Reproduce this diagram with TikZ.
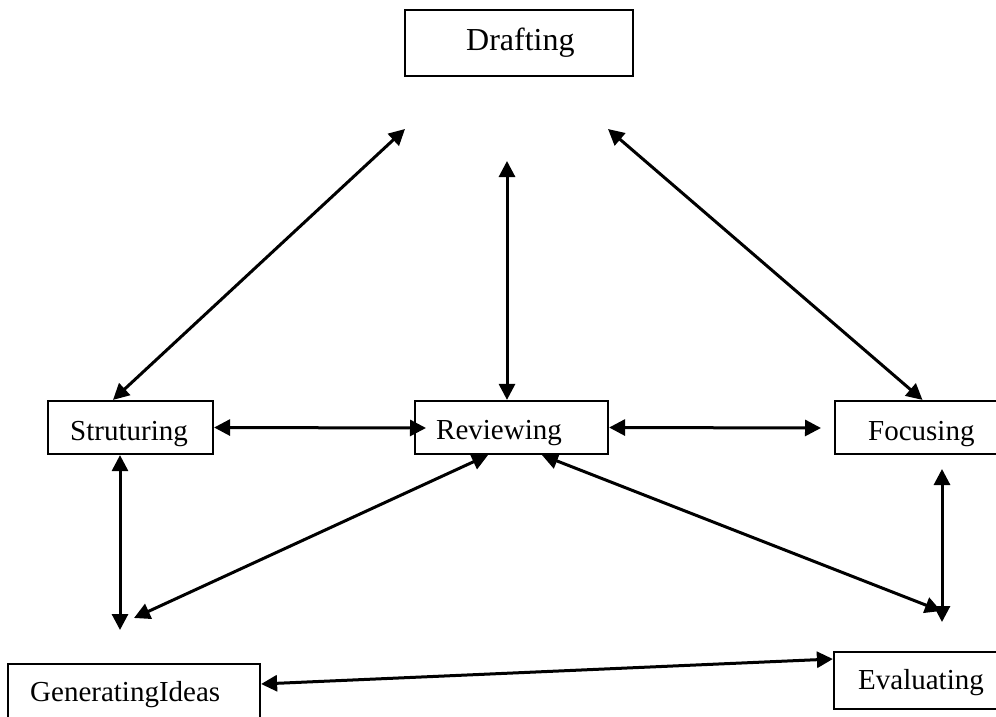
\documentclass[tikz,border=0pt]{standalone}
\usepackage{fontspec}
\setmainfont{Liberation Serif}
\usetikzlibrary{arrows.meta}
\begin{document}
\begin{tikzpicture}[x=1pt,y=-1pt,
  box/.style={draw, line width=2.2pt, inner sep=0pt},
  lbl/.style={anchor=base west, inner sep=0pt, font=\fontsize{29}{34}\selectfont},
  link/.style={line width=3pt, {Triangle[length=16pt,width=16pt]}-{Triangle[length=16pt,width=16pt]}}]
\useasboundingbox (0,0) rectangle (996,717);
\clip (0,0) rectangle (996,717);

% boxes (centre, size)
\node[box, minimum width=228pt, minimum height=66pt] (draft)  at (519,43)    {};
\node[box, minimum width=165pt, minimum height=53pt] (struct) at (130.5,427.5) {};
\node[box, minimum width=193pt, minimum height=53pt] (review) at (511.5,427.5) {};
\node[box, minimum width=175pt, minimum height=53pt] (focus)  at (922.5,427.5) {};
\node[box, minimum width=252pt, minimum height=66pt] (gen)    at (134,697)   {};
\node[box, minimum width=176pt, minimum height=57pt] (eval)   at (922,680.5) {};

% labels
\node[lbl, font=\fontsize{32}{38}\selectfont] (tdraft) at (466,51) {Drafting};
\node[lbl] (tstruct) at (70,440)  {Struturing};
\node[lbl] (treview) at (436,439) {Reviewing};
\node[lbl] (tfocus)  at (868,440) {Focusing};
\node[lbl] (tgen)    at (30,701)  {GeneratingIdeas};
\node[lbl] (teval)   at (858,689) {Evaluating};

% free arrow ends
\coordinate (dl) at (405,129);
\coordinate (dm) at (507,161);
\coordinate (dr) at (608,129);
\coordinate (fl) at (821,428);
\coordinate (rl) at (426,428);
\coordinate (gu) at (120,630);
\coordinate (gr) at (134,618);
\coordinate (es) at (941,611);
\coordinate (ev) at (942,622);
\coordinate (fb) at (942,469);

% connectors
\draw[link] ([xshift=-17.5pt]struct.north) -- (dl);
\draw[link] ([xshift=-4.5pt]review.north) -- (dm);
\draw[link] (focus.north) -- (dr);
\draw[link] (struct.east) -- (rl);
\draw[link] (review.east) -- (fl);
\draw[link] ([xshift=-10.5pt]struct.south) -- (gu);
\draw[link] (gr) -- ([xshift=-23.5pt]review.south);
\draw[link] ([xshift=30.5pt]review.south) -- (es);
\draw[link] (fb) -- (ev);
\draw[link] ([yshift=13pt]gen.east) -- ([yshift=21.5pt]eval.west);
\end{tikzpicture}
\end{document}
